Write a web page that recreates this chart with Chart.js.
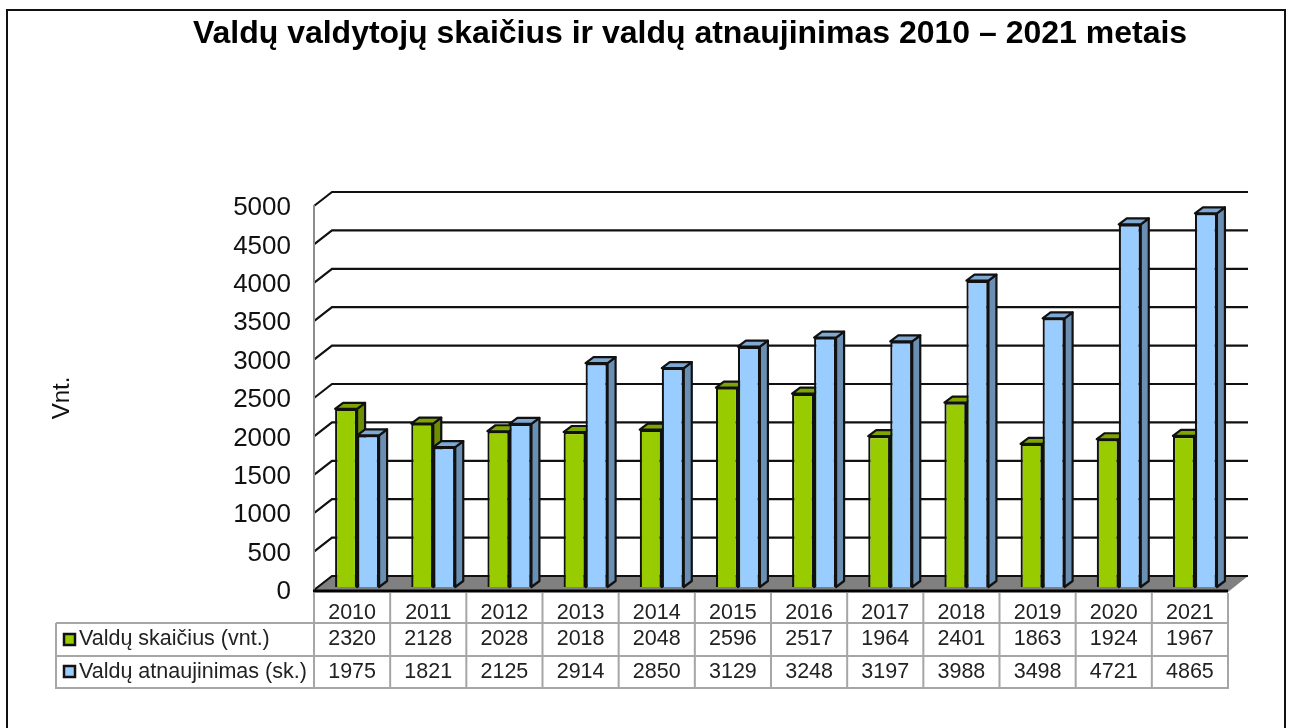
<!DOCTYPE html>
<html><head><meta charset="utf-8">
<style>html,body{margin:0;padding:0;background:#fff;overflow:hidden}canvas{display:block}</style>
<script src="https://cdn.jsdelivr.net/npm/chart.js@4/dist/chart.umd.min.js"></script>
</head><body><canvas id="c" width="1291" height="728"></canvas>
<script>
const titleText = 'Valdų valdytojų skaičius ir valdų atnaujinimas 2010 – 2021 metais';
const axisTitle = 'Vnt.';
const years = ['2010','2011','2012','2013','2014','2015','2016','2017','2018','2019','2020','2021'];
const seriesAName = 'Valdų skaičius (vnt.)';
const seriesBName = 'Valdų atnaujinimas (sk.)';
const seriesA = [2320,2128,2028,2018,2048,2596,2517,1964,2401,1863,1924,1967];
const seriesB = [1975,1821,2125,2914,2850,3129,3248,3197,3988,3498,4721,4865];
const FONT = '"Liberation Sans", Arial, sans-serif';
const DEPTH_X = 18, DEPTH_Y = 14;      // back wall offset
const BAR_X = 5, BAR_Y = -3;           // bars stand inside the floor
const BAR_DX = 8, BAR_DY = 6;          // bar depth
const shades = [{side:'#6b8f00',top:'#7fa600'},{side:'#6b8fb3',top:'#7fa8d2'}];
const TABLE_LEFT = 56, ROW_1 = 623, ROW_2 = 656, ROW_3 = 688;

const scene = {
  id:'scene',
  afterLayout(chart){
    chart.titleBlock.left = 95; chart.titleBlock.right = 1285;
  },
  beforeDraw(chart){
    const c = chart.ctx;
    c.save();
    c.strokeStyle='#111'; c.lineWidth=2;
    c.beginPath(); c.moveTo(7,728); c.lineTo(7,10); c.lineTo(1285,10); c.lineTo(1285,728); c.stroke();
    c.restore();
  },
  beforeDatasetsDraw(chart){
    const c = chart.ctx, {y} = chart.scales, a = chart.chartArea;
    c.save();
    // floor
    const y0 = y.getPixelForValue(0);
    c.fillStyle='#808080';
    c.beginPath(); c.moveTo(a.left,y0); c.lineTo(a.left+DEPTH_X,y0-DEPTH_Y);
    c.lineTo(a.right+DEPTH_X+2,y0-DEPTH_Y); c.lineTo(a.right,y0+2); c.closePath(); c.fill();
    // grid lines
    c.strokeStyle='#111'; c.lineWidth=2.2; c.lineJoin='miter';
    y.ticks.forEach(t=>{
      const p = y.getPixelForValue(t.value);
      c.beginPath(); c.moveTo(a.left,p); c.lineTo(a.left+DEPTH_X,p-DEPTH_Y);
      c.lineTo(a.right+DEPTH_X+2,p-DEPTH_Y); c.stroke();
    });
    // wall
    c.strokeStyle='#8c8c8c'; c.lineWidth=2;
    c.beginPath(); c.moveTo(a.left,a.top-1); c.lineTo(a.left,y0); c.stroke();
    // front edge of floor
    c.strokeStyle='#000'; c.lineWidth=3;
    c.beginPath(); c.moveTo(a.left-1,y0+1); c.lineTo(a.right,y0+1); c.stroke();
    // bar depth
    c.translate(BAR_X,BAR_Y);
    c.lineWidth=2.2; c.lineJoin='round'; c.strokeStyle='#111';
    [0,1].forEach(ds=>{
      chart.getDatasetMeta(ds).data.forEach(b=>{
        const l=b.x-b.width/2, r=b.x+b.width/2, t=b.y, bt=b.base;
        c.fillStyle=shades[ds].side;
        c.beginPath(); c.moveTo(r,t); c.lineTo(r+BAR_DX,t-BAR_DY); c.lineTo(r+BAR_DX,bt-BAR_DY); c.lineTo(r,bt); c.closePath(); c.fill(); c.stroke();
        c.fillStyle=shades[ds].top;
        c.beginPath(); c.moveTo(l,t); c.lineTo(l+BAR_DX,t-BAR_DY); c.lineTo(r+BAR_DX,t-BAR_DY); c.lineTo(r,t); c.closePath(); c.fill(); c.stroke();
      });
    });
    c.restore();
    c.save(); c.translate(BAR_X,BAR_Y);
  },
  afterDatasetsDraw(chart){
    const c = chart.ctx, {x} = chart.scales, a = chart.chartArea;
    c.restore();
    c.save();
    // data table
    const step = (a.right-a.left)/years.length;
    c.strokeStyle='#a6a6a6'; c.lineWidth=2;
    c.beginPath();
    c.moveTo(TABLE_LEFT,ROW_1); c.lineTo(a.right,ROW_1);
    c.moveTo(TABLE_LEFT,ROW_2); c.lineTo(a.right,ROW_2);
    c.moveTo(TABLE_LEFT-1,ROW_3); c.lineTo(a.right+1,ROW_3);
    c.moveTo(TABLE_LEFT,ROW_1); c.lineTo(TABLE_LEFT,ROW_3);
    for(let i=0;i<=years.length;i++){
      const px=a.left+i*step;
      c.moveTo(px,a.bottom+3); c.lineTo(px,ROW_3);
    }
    c.stroke();
    c.fillStyle='#222'; c.font='21.5px '+FONT; c.textAlign='center'; c.textBaseline='middle';
    years.forEach((_,i)=>{
      const px=x.getPixelForTick(i);
      c.fillText(String(seriesA[i]),px,(ROW_1+ROW_2)/2);
      c.fillText(String(seriesB[i]),px,(ROW_2+ROW_3)/2);
    });
    c.textAlign='left';
    c.fillText(seriesAName,79,(ROW_1+ROW_2)/2);
    c.fillText(seriesBName,79,(ROW_2+ROW_3)/2);
    c.strokeStyle='#111'; c.lineWidth=2.5;
    c.fillStyle='#99CC00'; c.fillRect(64,634,11,11); c.strokeRect(64,634,11,11);
    c.fillStyle='#99CCFF'; c.fillRect(64,666,11,11); c.strokeRect(64,666,11,11);
    c.restore();
  }
};

new Chart(document.getElementById('c'),{
  type:'bar',
  data:{labels:years,datasets:[
    {label:seriesAName,data:seriesA,backgroundColor:'#99CC00',borderColor:'#111',borderWidth:2.2,clip:false,categoryPercentage:0.578,barPercentage:1},
    {label:seriesBName,data:seriesB,backgroundColor:'#99CCFF',borderColor:'#111',borderWidth:2.2,clip:false,categoryPercentage:0.578,barPercentage:1}
  ]},
  options:{
    responsive:false,animation:false,
    layout:{padding:{left:48,right:63,top:0,bottom:38}},
    plugins:{
      legend:{display:false},tooltip:{enabled:false},
      title:{display:true,text:titleText,color:'#000',font:{family:FONT,size:32,weight:'bold'},padding:{top:15,bottom:152.6},align:'center'}
    },
    scales:{
      x:{grid:{display:false,drawTicks:false},border:{display:false},
         ticks:{color:'#222',font:{family:FONT,size:21.5},padding:10,maxRotation:0},
         afterFit(s){s.height=100;}},
      y:{min:0,max:5000,grid:{display:false,drawTicks:false},border:{display:false},
         ticks:{stepSize:500,color:'#111',font:{family:FONT,size:26},padding:23,labelOffset:2,callback:v=>String(v)},
         title:{display:true,text:axisTitle,color:'#111',font:{family:FONT,size:24},padding:0},
         afterFit(s){s.width=266;}}
    }
  },
  plugins:[scene]
});
</script></body></html>
